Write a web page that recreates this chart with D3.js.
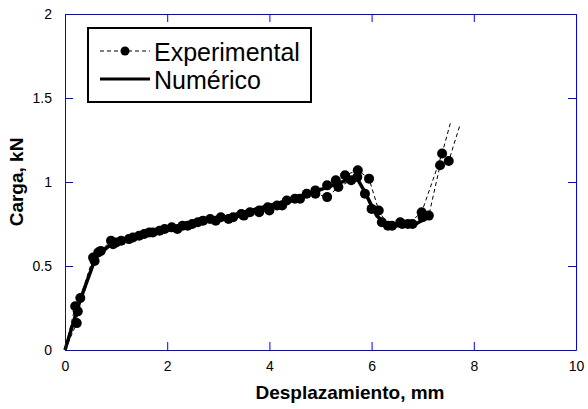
<!DOCTYPE html>
<html>
<head>
<meta charset="utf-8">
<script src="https://cdn.jsdelivr.net/npm/d3@7"></script>
<style>
  body { margin: 0; background: #fff; }
  svg text { font-family: "Liberation Sans", Arial, sans-serif; fill: #000; }
</style>
</head>
<body>
<div class="chart"></div>
<script>
// values: [displacement mm, load kN]
var expA = [[0,0],[0.2,0.26],[0.3,0.31],[0.55,0.55],[0.7,0.59],[0.9,0.65],[1.1,0.65],
  [1.33,0.67],[1.55,0.69],[1.72,0.70],[1.95,0.72],[2.09,0.73],[2.3,0.74],[2.49,0.75],[2.7,0.77],[2.84,0.78],
  [3.05,0.79],[3.29,0.79],[3.45,0.81],[3.62,0.82],[3.8,0.83],[3.97,0.85],[4.15,0.86],[4.34,0.89],[4.5,0.90],
  [4.73,0.93],[4.9,0.95],[5.13,0.98],[5.3,1.01],[5.48,1.04],[5.73,1.07],[5.95,1.02],[6.14,0.83],[6.32,0.74],
  [6.56,0.76],[6.71,0.75],[6.98,0.82],[7.38,1.17],[7.55,1.36]];
var expB = [[0,0],[0.23,0.16],[0.25,0.23],[0.58,0.53],[0.65,0.58],[0.94,0.63],[1.0,0.64],
  [1.25,0.66],[1.45,0.68],[1.65,0.70],[1.85,0.71],[2.2,0.72],[2.4,0.74],[2.6,0.76],[2.95,0.77],[3.2,0.78],
  [3.5,0.80],[3.8,0.82],[4.0,0.83],[4.25,0.86],[4.6,0.90],[4.9,0.93],[5.13,0.91],[5.35,0.97],[5.6,1.01],
  [5.72,1.03],[5.87,0.93],[6.0,0.84],[6.2,0.76],[6.4,0.74],[6.6,0.75],[6.8,0.75],[7.0,0.79],[7.12,0.80],
  [7.34,1.10],[7.51,1.125],[7.73,1.34]];
var numerico = [[0,0],[0.3,0.3],[0.6,0.55],[0.9,0.63],[1.5,0.68],[3,0.78],[4.5,0.90],[5.7,1.03],[5.85,0.95],
  [6.1,0.80],[6.3,0.74],[6.8,0.74],[7.1,0.79]];

var xTicks = [0, 2, 4, 6, 8, 10];
var yTicks = [0, 0.5, 1, 1.5, 2];
var legendLabels = ["Experimental", "Numérico"];

var W = 588, H = 409;
var margin = { top: 14, right: 12, bottom: 59, left: 65 },
    width = W - margin.left - margin.right,
    height = H - margin.top - margin.bottom;

var x = d3.scaleLinear().domain([0, 10]).range([0, width]);
var y = d3.scaleLinear().domain([0, 2]).range([height, 0]);

var svg = d3.select(".chart").append("svg")
    .attr("width", W)
    .attr("height", H)
  .append("g")
    .attr("transform", "translate(" + margin.left + "," + margin.top + ")");

var line = d3.line()
    .x(function (d) { return x(d[0]); })
    .y(function (d) { return y(d[1]); });

// numerical curve (thick solid)
svg.append("path")
    .datum(numerico)
    .attr("d", line)
    .attr("fill", "none")
    .attr("stroke", "#000")
    .attr("stroke-width", 3.5);

// experimental curves (thin dashed, dots on all but the end points)
[expA, expB].forEach(function (s) {
  svg.append("path")
      .datum(s)
      .attr("d", line)
      .attr("fill", "none")
      .attr("stroke", "#000")
      .attr("stroke-width", 1)
      .attr("stroke-dasharray", "4,3");
  svg.selectAll(null)
      .data(s.slice(1, -1))
      .enter().append("circle")
      .attr("cx", function (d) { return x(d[0]); })
      .attr("cy", function (d) { return y(d[1]); })
      .attr("r", 5)
      .attr("fill", "#000");
});

// axes: blue frame, inward ticks on all sides
function styleAxis(g) {
  g.selectAll(".domain").attr("stroke", "#0000ff");
  g.selectAll(".tick line").attr("stroke", "#0000ff");
  g.selectAll(".tick text").style("font-size", "14px").attr("fill", "#000");
}
var fmt = function (d) { return String(d); };

svg.append("g")
    .attr("transform", "translate(0," + height + ")")
    .call(d3.axisBottom(x).tickValues(xTicks).tickFormat(fmt).tickSizeInner(-8).tickSizeOuter(0).tickPadding(11))
    .call(styleAxis);
svg.append("g")
    .call(d3.axisTop(x).tickValues(xTicks).tickFormat("").tickSizeInner(-8).tickSizeOuter(0))
    .call(styleAxis);
svg.append("g")
    .call(d3.axisLeft(y).tickValues(yTicks).tickFormat(fmt).tickSizeInner(-8).tickSizeOuter(0).tickPadding(13))
    .call(styleAxis);
svg.append("g")
    .attr("transform", "translate(" + width + ",0)")
    .call(d3.axisRight(y).tickValues(yTicks).tickFormat("").tickSizeInner(-8).tickSizeOuter(0))
    .call(styleAxis);

// axis titles
svg.append("text")
    .attr("x", 285)
    .attr("y", height + 49)
    .attr("text-anchor", "middle")
    .style("font-size", "19px")
    .style("font-weight", "bold")
    .text("Desplazamiento, mm");
svg.append("text")
    .attr("transform", "translate(-42," + (height / 2) + ") rotate(-90)")
    .attr("text-anchor", "middle")
    .style("font-size", "19px")
    .style("font-weight", "bold")
    .text("Carga, kN");

// legend
var lg = svg.append("g").attr("transform", "translate(23,14)");
lg.append("rect")
    .attr("width", 223).attr("height", 74)
    .attr("fill", "#fff").attr("stroke", "#000").attr("stroke-width", 2);
lg.append("line").attr("x1", 12).attr("x2", 62).attr("y1", 23).attr("y2", 23)
    .attr("stroke", "#000").attr("stroke-width", 1).attr("stroke-dasharray", "4,3");
lg.append("circle").attr("cx", 37).attr("cy", 23).attr("r", 4.5).attr("fill", "#000");
lg.append("line").attr("x1", 12).attr("x2", 62).attr("y1", 51).attr("y2", 51)
    .attr("stroke", "#000").attr("stroke-width", 3);
lg.selectAll(".lt")
    .data(legendLabels)
    .enter().append("text")
    .attr("x", 66)
    .attr("y", function (d, i) { return 33 + i * 28; })
    .style("font-size", "25px")
    .text(function (d) { return d; });
</script>
</body>
</html>
